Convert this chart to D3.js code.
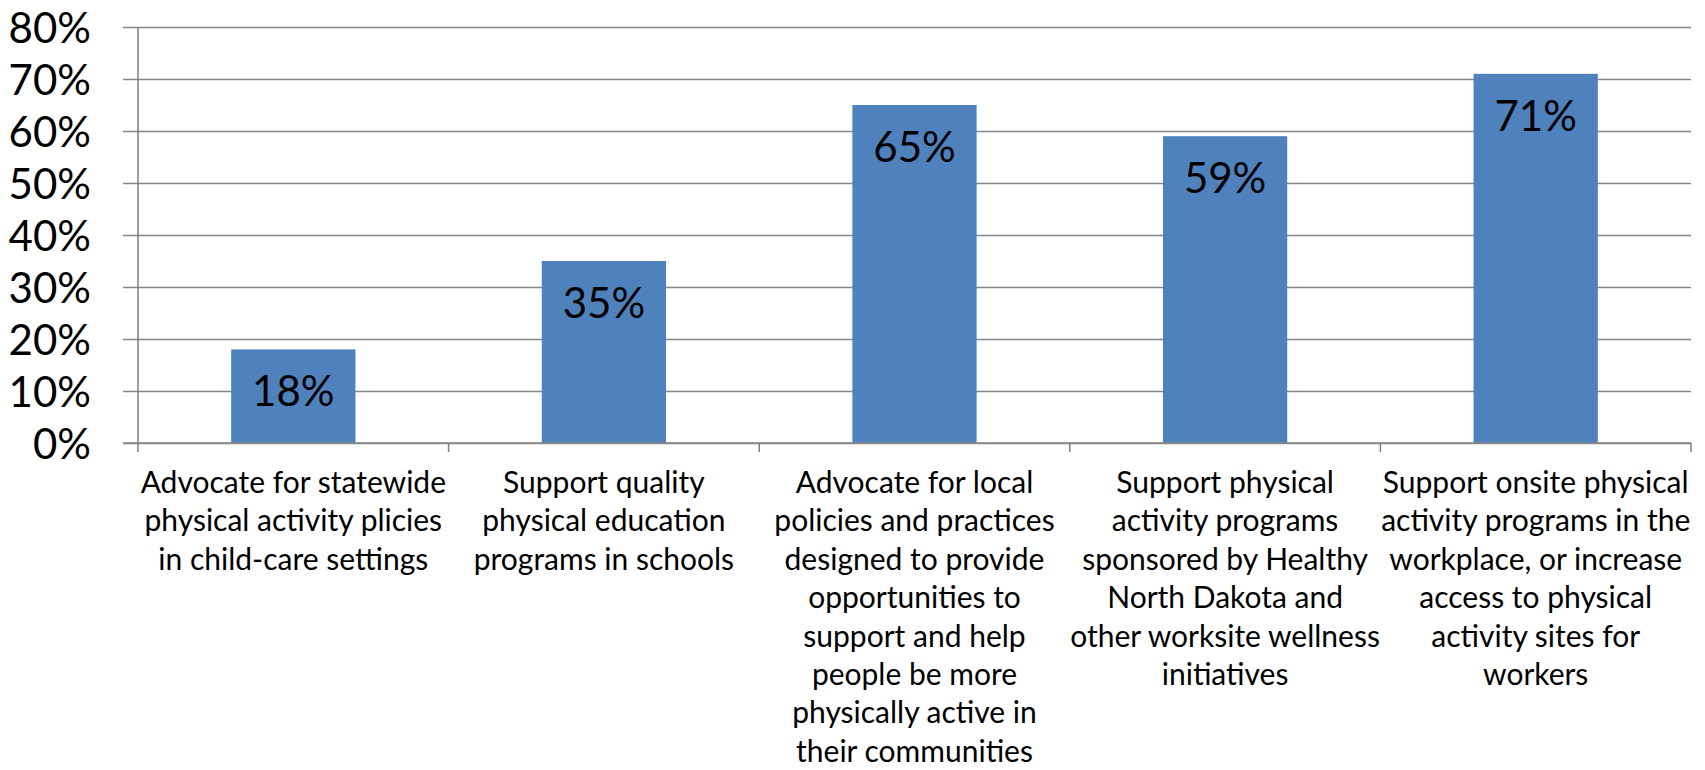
<!DOCTYPE html>
<html>
<head>
<meta charset="utf-8">
<script src="https://cdn.jsdelivr.net/npm/d3@7"></script>
<style>
  html, body { margin: 0; padding: 0; background: #fff; }
  svg { display: block; font-family: Lato, "Open Sans", sans-serif; }
</style>
</head>
<body>
<svg id="chart" width="1705" height="770"></svg>
<script>
// Share of respondents supporting each physical-activity strategy
const categories = [
  "Advocate for statewide physical activity plicies in child-care settings",
  "Support quality physical education programs in schools",
  "Advocate for local policies and practices designed to provide opportunities to support and help people be more physically active in their communities",
  "Support physical activity programs sponsored by Healthy North Dakota and other worksite wellness initiatives",
  "Support onsite physical activity programs in the workplace, or increase access to physical activity sites for workers"
];
const values = [18, 35, 65, 59, 71];

// Wrapped lines of each category label
const labelLines = [
  ["Advocate for statewide", "physical activity plicies", "in child-care settings"],
  ["Support quality", "physical education", "programs in schools"],
  ["Advocate for local", "policies and practices", "designed to provide", "opportunities to", "support and help", "people be more", "physically active in", "their communities"],
  ["Support physical", "activity programs", "sponsored by Healthy", "North Dakota and", "other worksite wellness", "initiatives"],
  ["Support onsite physical", "activity programs in the", "workplace, or increase", "access to physical", "activity sites for", "workers"]
];
const yTicks = [0, 10, 20, 30, 40, 50, 60, 70, 80];

const svg = d3.select("#chart");
const plot = { left: 138, right: 1691, top: 27, bottom: 443 };
const gridColor = "#868686";
const barColor = "#4F81BD";

const x = d3.scaleBand()
  .domain(categories)
  .range([plot.left, plot.right])
  .paddingInner(0.6)
  .paddingOuter(0.3);

const y = d3.scaleLinear()
  .domain([0, 80])
  .range([plot.bottom, plot.top]);

// Horizontal gridlines with short ticks to the left of the axis
const yAxis = d3.axisLeft(y)
  .tickValues(yTicks)
  .tickFormat(d => d + "%")
  .tickSize(-(plot.right - plot.left))
  .tickPadding(0);

const gy = svg.append("g")
  .attr("transform", `translate(${plot.left},0)`)
  .call(yAxis);
gy.select(".domain").remove();
gy.selectAll(".tick line")
  .attr("x1", -15)
  .attr("stroke", gridColor)
  .attr("stroke-width", 1.6);
gy.selectAll(".tick text")
  .attr("x", -47)
  .attr("dy", "0.36em")
  .attr("fill", "#000")
  .attr("font-size", 42)
  .attr("font-family", "Lato, sans-serif");

// Vertical axis line
svg.append("line")
  .attr("x1", plot.left).attr("x2", plot.left)
  .attr("y1", y(80)).attr("y2", plot.bottom + 9)
  .attr("stroke", gridColor)
  .attr("stroke-width", 1.6);

// Category separators below the baseline
const step = x.step();
const sepX = d3.range(categories.length).map(i => plot.left + step * (i + 1));
svg.selectAll("line.sep")
  .data(sepX)
  .join("line")
  .attr("class", "sep")
  .attr("x1", d => d).attr("x2", d => d)
  .attr("y1", plot.bottom).attr("y2", plot.bottom + 9)
  .attr("stroke", gridColor)
  .attr("stroke-width", 1.6);

// Bars
svg.selectAll("rect.bar")
  .data(values)
  .join("rect")
  .attr("class", "bar")
  .attr("x", (d, i) => x(categories[i]))
  .attr("y", d => y(d))
  .attr("width", x.bandwidth())
  .attr("height", d => plot.bottom - y(d))
  .attr("fill", barColor);

// Bottom axis line drawn over the bars
svg.append("line")
  .attr("x1", plot.left - 15).attr("x2", plot.right)
  .attr("y1", plot.bottom).attr("y2", plot.bottom)
  .attr("stroke", gridColor)
  .attr("stroke-width", 1.6);

// Value labels inside the bars
svg.selectAll("text.val")
  .data(values)
  .join("text")
  .attr("class", "val")
  .attr("x", (d, i) => x(categories[i]) + x.bandwidth() / 2)
  .attr("y", d => y(d) + 57)
  .attr("text-anchor", "middle")
  .attr("font-size", 42)
  .attr("fill", "#000")
  .text(d => d + "%");

// Wrapped category labels
const lab = svg.selectAll("text.cat")
  .data(labelLines)
  .join("text")
  .attr("class", "cat")
  .attr("text-anchor", "middle")
  .attr("font-size", 30)
  .attr("fill", "#000")
  .attr("transform", (d, i) => `translate(${x(categories[i]) + x.bandwidth() / 2},${493})`);
lab.selectAll("tspan")
  .data(d => d)
  .join("tspan")
  .attr("x", 0)
  .attr("y", (d, j) => j * 38.4)
  .text(d => d);
</script>
</body>
</html>
